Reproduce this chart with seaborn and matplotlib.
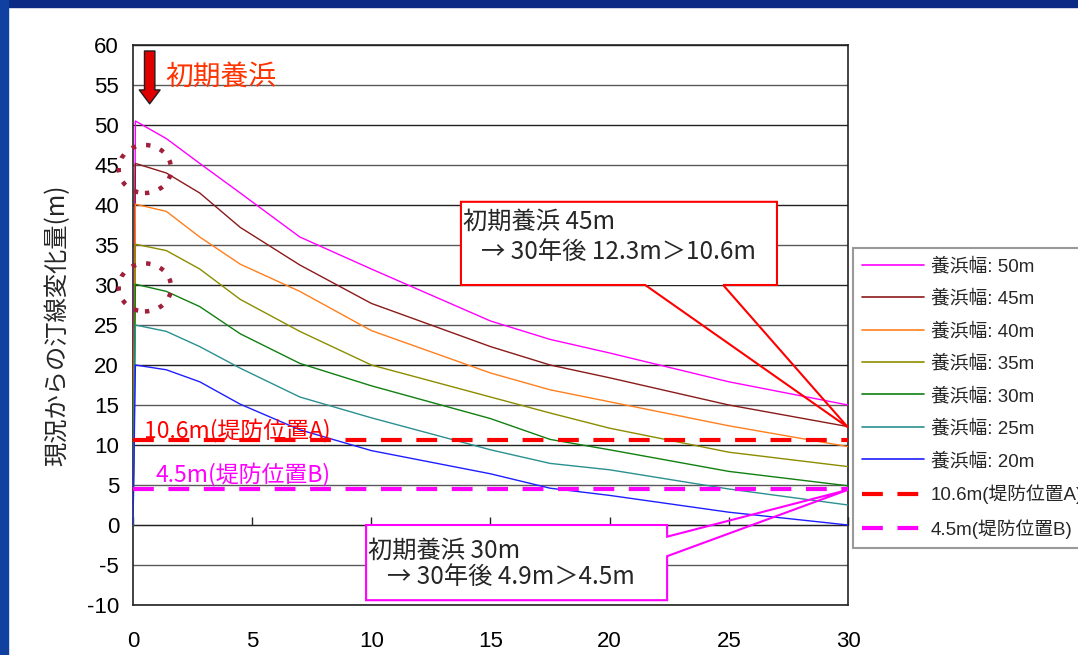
import matplotlib
matplotlib.use("Agg")
import matplotlib.pyplot as plt
import seaborn as sns
import pandas as pd
from matplotlib.patches import Rectangle, Polygon, Ellipse

# 経過年数と各養浜幅の汀線変化量(m) - 図から読み取り
years = [0, 0.1, 1.4, 2.8, 4.5, 7, 10, 15, 17.5, 20, 25, 30]
w50 = [0, 50.5, 48.3, 45.2, 41.5, 36.0, 32.0, 25.5, 23.2, 21.5, 17.9, 15.0]
w45 = [0, 45.2, 44.0, 41.5, 37.2, 32.5, 27.7, 22.3, 20.0, 18.4, 15.0, 12.3]
w40 = [0, 40.1, 39.2, 36.0, 32.6, 29.2, 24.3, 19.0, 16.9, 15.4, 12.4, 9.8]
w35 = [0, 35.1, 34.3, 32.0, 28.2, 24.2, 20.0, 16.0, 14.0, 12.1, 9.1, 7.3]
w30 = [0, 30.1, 29.2, 27.3, 23.9, 20.2, 17.4, 13.3, 10.7, 9.4, 6.7, 4.9]
w25 = [0, 25.0, 24.2, 22.3, 19.6, 16.0, 13.4, 9.4, 7.7, 6.9, 4.5, 2.5]
w20 = [0, 20.0, 19.4, 17.9, 15.1, 11.9, 9.3, 6.4, 4.6, 3.7, 1.6, 0.0]

series_names = ["養浜幅: 50m", "養浜幅: 45m", "養浜幅: 40m", "養浜幅: 35m",
                "養浜幅: 30m", "養浜幅: 25m", "養浜幅: 20m"]
series_values = [w50, w45, w40, w35, w30, w25, w20]
line_colors = ["#FF00FF", "#8B1A1A", "#FF7F1E", "#8C8C00", "#108010", "#2A9090", "#1E1EFF"]

levee_a = 10.6
levee_b = 4.5
levee_a_label = "10.6m(堤防位置A)"
levee_b_label = "4.5m(堤防位置B)"

yticks = list(range(-10, 61, 5))
xticks = [0, 5, 10, 15, 20, 25, 30]

df = pd.concat([pd.DataFrame({"年": years, "変化量": v, "系列": n})
                for n, v in zip(series_names, series_values)])

sns.set_style("white")
plt.rcParams['font.family'] = ['Liberation Sans', 'Noto Sans CJK JP', 'DejaVu Sans']
plt.rcParams['axes.unicode_minus'] = False
JP = ['Noto Sans CJK JP', 'DejaVu Sans']

fig = plt.figure(figsize=(10.78, 6.55), dpi=100)
ax = fig.add_axes([133 / 1078, 1 - 605 / 655, 715 / 1078, 560 / 655])

# 背景の青枠
fig.patches.append(Rectangle((0, 1 - 7 / 655), 1, 7 / 655, transform=fig.transFigure,
                             color="#0A2A86", zorder=0))
fig.patches.append(Rectangle((0, 0), 8 / 1078, 1, transform=fig.transFigure,
                             color="#1040A0", zorder=0))

# 横グリッド
for y in yticks:
    ax.axhline(y, color="#5a5a5a" if y % 10 else "#222222", lw=1.0, zorder=1)

sns.lineplot(data=df, x="年", y="変化量", hue="系列", palette=dict(zip(series_names, line_colors)),
             lw=1.0, ax=ax, legend=False, zorder=3, sort=False)

ax.axhline(levee_a, color="#FF0000", lw=3, ls=(0, (5, 3.5)), zorder=4)
ax.axhline(levee_b, color="#FF00FF", lw=3, ls=(0, (5, 3.5)), zorder=4)

ax.text(0.45, levee_a + 1.05, levee_a_label, color="#FF0000", fontsize=16.5, va="center",
        family=JP, zorder=5)
ax.text(0.95, levee_b + 1.75, levee_b_label, color="#FF00FF", fontsize=16.5, va="center",
        family=JP, zorder=5)

ax.set_xlim(0, 30)
ax.set_ylim(-10, 60)
ax.set_yticks(yticks)
ax.set_xticks(xticks)
ax.tick_params(axis="both", length=0, labelsize=16, colors="black")
ax.tick_params(axis="x", pad=19)
ax.tick_params(axis="y", pad=10)
for s in ax.spines.values():
    s.set_color("#222222")
    s.set_linewidth(1.2)
ax.set_xlabel("")
ax.set_ylabel("現況からの汀線変化量(m)", fontsize=17.5, labelpad=12, family=JP)

# 0m位置のx軸(目盛は上向き)
sec = ax.secondary_xaxis(1 / 7)
sec.set_xticks(xticks)
sec.tick_params(direction="in", length=6, width=1, labelbottom=False, labeltop=False)
sec.spines["bottom"].set_color("#222222")
sec.spines["top"].set_color("#222222")

# 初期養浜の矢印と文字
ax.annotate("", xy=(0.7, 52.3), xytext=(0.7, 59.6),
            arrowprops=dict(arrowstyle="simple,head_width=1.5,head_length=1.0,tail_width=0.75",
                            fc="#E00000", ec="#202020", lw=1), zorder=6)
ax.text(1.35, 56.0, "初期養浜", color="#FF3300", fontsize=20, va="center", family=JP, zorder=6)

# 点線の丸
for cy in (44.5, 29.7):
    ax.add_patch(Ellipse((0.5, cy), 2.2, 6.0, fill=False, ec="#A0203C", lw=3.2,
                         ls=(0, (1, 2.3)), clip_on=False, zorder=6))

# 吹き出し 1
ax.add_patch(Rectangle((13.76, 30.0), 13.26, 10.4, fc="white", ec="none", zorder=7))
ax.add_patch(Polygon([(13.76, 40.4), (27.02, 40.4), (27.02, 30.0), (24.76, 30.0), (30, 12.2),
                      (21.49, 30.0), (13.76, 30.0)], closed=True, fill=False,
                     ec="#FF0000", lw=1.5, zorder=8, clip_on=False))
ax.text(13.85, 37.9, "初期養浜 45m", fontsize=17.5, va="center", family=JP, zorder=9)
ax.text(14.6, 34.1, "→ 30年後 12.3m＞10.6m", fontsize=17.5, va="center", family=JP, zorder=9)

# 吹き出し 2
ax.add_patch(Rectangle((9.78, -9.4), 12.63, 9.4, fc="white", ec="none", zorder=7))
ax.add_patch(Polygon([(9.78, 0.0), (22.41, 0.0), (22.41, -1.46), (30, 4.4), (22.41, -3.9),
                      (22.41, -9.4), (9.78, -9.4)], closed=True, fill=False,
                     ec="#FF00FF", lw=1.5, zorder=8, clip_on=False))
ax.text(9.87, -3.2, "初期養浜 30m", fontsize=17.5, va="center", family=JP, zorder=9)
ax.text(10.65, -6.5, "→ 30年後 4.9m＞4.5m", fontsize=17.5, va="center", family=JP, zorder=9)

# 凡例 (参照図と同じく右端で切れる)
handles = [plt.Line2D([], [], color=c, lw=1.2) for c in line_colors]
handles += [plt.Line2D([], [], color="#FF0000", lw=3, ls=(0, (5, 3.5))),
            plt.Line2D([], [], color="#FF00FF", lw=3, ls=(0, (5, 3.5)))]
labels = series_names + [levee_a_label, levee_b_label]
leg = ax.legend(handles, labels, loc="upper left", bbox_to_anchor=(1.007, 0.6375),
                fontsize=13.5, handlelength=3.3, handletextpad=0.35, labelspacing=0.78,
                frameon=True, fancybox=False, shadow=False, borderpad=0.5, borderaxespad=0)
leg.get_frame().set_edgecolor("#808080")
leg.get_frame().set_linewidth(1.5)

fig.savefig("out.png", dpi=100)
